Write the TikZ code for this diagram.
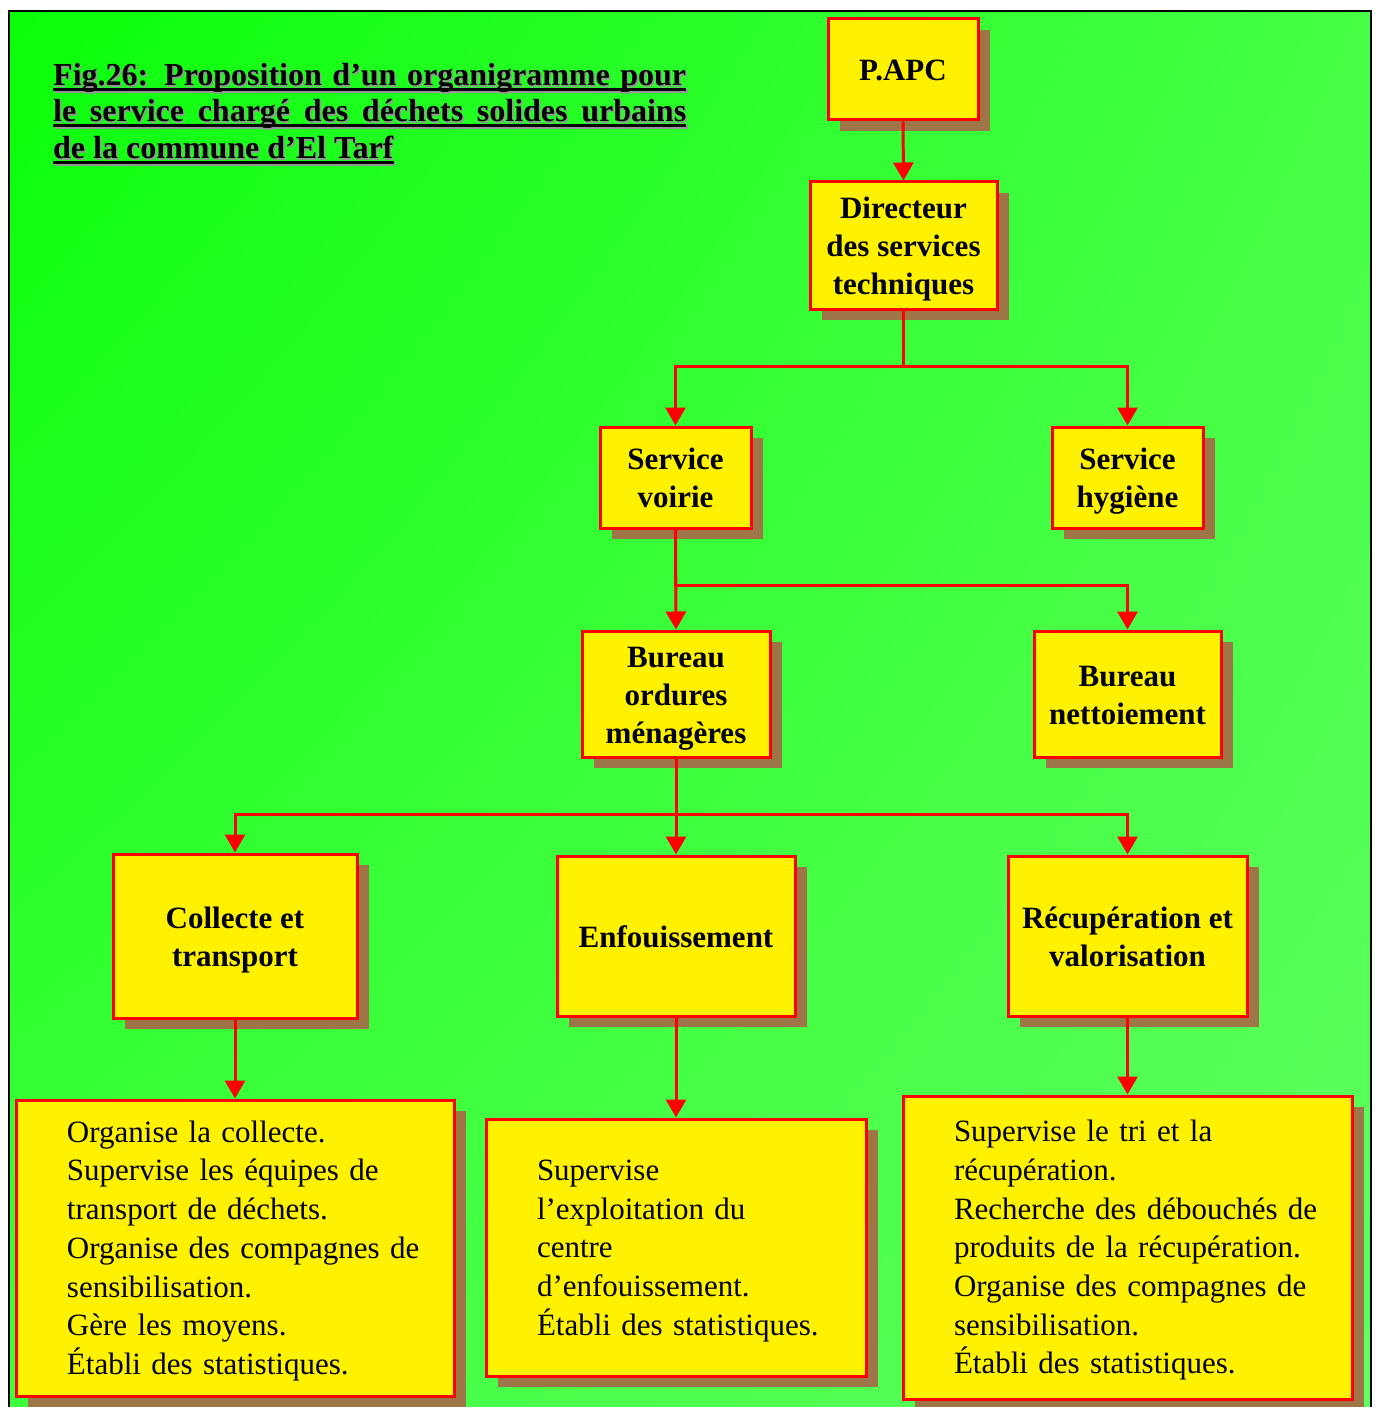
\documentclass[tikz,border=0pt]{standalone}
\usepackage{fontspec}
\setmainfont{Liberation Serif}
\usetikzlibrary{arrows.meta,shadows,shadings}
\definecolor{shad}{RGB}{158,117,70}
\definecolor{gA}{RGB}{10,255,10}
\definecolor{gB}{RGB}{70,255,70}
\definecolor{gC}{RGB}{62,255,62}
\definecolor{gD}{RGB}{95,255,95}
\definecolor{ttlshadow}{RGB}{150,150,150}
\newcommand\bstrut{\rule[-8pt]{0pt}{38pt}}
\newcommand\dstrut{\rule[-9pt]{0pt}{38.7pt}}
\begin{document}
\begin{tikzpicture}[x=1pt,y=-1pt,
  myshadow/.style={drop shadow={shadow xshift=12pt, shadow yshift=-11pt, fill=shad, opacity=1}},
  box/.style={draw=red, line width=3pt, fill=yellow, inner sep=0pt, align=center,
    font=\fontsize{31}{38}\selectfont\bfseries, myshadow},
  desc/.style={draw=red, line width=3pt, fill=yellow, inner sep=0pt, align=left,
    font=\fontsize{31}{38.7}\selectfont, myshadow},
  conn/.style={draw=red, line width=3pt, -{Triangle[width=20pt,length=18pt]}},
  ttl/.style={inner sep=0pt, anchor=base west, font=\fontsize{32}{37}\selectfont\bfseries},
  uline/.style={line width=3.5pt},
]
\useasboundingbox (0,0) rectangle (1377,1407);
\shade[upper left=gA, upper right=gB, lower left=gC, lower right=gD] (9,11) rectangle (1371,1407);
\draw[line width=2.5pt] (9,1407) -- (9,11) -- (1371,11) -- (1371,1407);

% title (shadow copy first)
\node[ttl, text=ttlshadow] (t1s) at (54.5,87.5) {\makebox[633pt][s]{Fig.26: Proposition d’un organigramme pour}};
\node[ttl, text=ttlshadow] (t2s) at (54.5,123.5) {\makebox[633pt][s]{le service chargé des déchets solides urbains}};
\node[ttl, text=ttlshadow] (t3s) at (54.5,160.5) {de la commune d’El Tarf};
\draw[uline, ttlshadow] ([yshift=-3.5pt]t1s.base west) -- ([yshift=-3.5pt]t1s.base east);
\draw[uline, ttlshadow] ([yshift=-3.5pt]t2s.base west) -- ([yshift=-3.5pt]t2s.base east);
\draw[uline, ttlshadow] ([yshift=-3.5pt]t3s.base west) -- ([yshift=-3.5pt]t3s.base east);
\node[ttl] (t1) at (53,86) {\makebox[633pt][s]{Fig.26: Proposition d’un organigramme pour}};
\node[ttl] (t2) at (53,122) {\makebox[633pt][s]{le service chargé des déchets solides urbains}};
\node[ttl] (t3) at (53,159) {de la commune d’El Tarf};
\draw[uline] ([yshift=-3.5pt]t1.base west) -- ([yshift=-3.5pt]t1.base east);
\draw[uline] ([yshift=-3.5pt]t2.base west) -- ([yshift=-3.5pt]t2.base east);
\draw[uline] ([yshift=-3.5pt]t3.base west) -- ([yshift=-3.5pt]t3.base east);

% boxes
\node[box, minimum width=150pt, minimum height=101pt] (papc) at (903,69.5) {\bstrut P.APC\bstrut};
\node[box, minimum width=187pt, minimum height=127pt] (dir) at (903.5,245.5) {\bstrut Directeur\\des services\\techniques\bstrut};
\node[box, minimum width=151pt, minimum height=101pt] (voirie) at (675.5,477.5) {\bstrut Service\\voirie\bstrut};
\node[box, minimum width=151pt, minimum height=101pt] (hyg) at (1127.5,477.5) {\bstrut Service\\hygiène\bstrut};
\node[box, minimum width=188pt, minimum height=126pt] (ord) at (676,694) {\bstrut Bureau\\ordures\\ménagères\bstrut};
\node[box, minimum width=187pt, minimum height=126pt] (nett) at (1127.5,694) {\bstrut Bureau\\nettoiement\bstrut};
\node[box, minimum width=244pt, minimum height=164pt] (coll) at (235,936) {\bstrut Collecte et\\transport\bstrut};
\node[box, minimum width=238pt, minimum height=160pt] (enf) at (676,936) {\bstrut Enfouissement\bstrut};
\node[box, minimum width=239pt, minimum height=160pt] (recup) at (1127.5,936) {\bstrut Récupération et\\valorisation\bstrut};

\node[desc, text width=438pt, minimum height=296pt] (d1) at (235,1248) {\leftskip=51pt
\dstrut Organise la collecte.\\Supervise les équipes de\\transport de déchets.\\Organise des compagnes de\\sensibilisation.\\Gère les moyens.\\Établi des statistiques.\dstrut\par};
\node[desc, text width=380pt, minimum height=257pt] (d2) at (676,1247.5) {\leftskip=51pt
\dstrut Supervise\\l’exploitation du\\centre\\d’enfouissement.\\Établi des statistiques.\dstrut\par};
\node[desc, text width=449pt, minimum height=303pt] (d3) at (1127.5,1247.5) {\leftskip=51pt
\dstrut Supervise le tri et la\\récupération.\\Recherche des débouchés de\\produits de la récupération.\\Organise des compagnes de\\sensibilisation.\\Établi des statistiques.\dstrut\par};

% connectors
\draw[conn] (papc.south) -- (dir.north);
\draw[conn] (dir.south) -- ++(0,56) -| (voirie.north);
\draw[conn] (dir.south) -- ++(0,56) -| (hyg.north);
\draw[conn] (voirie.south) -- (ord.north);
\draw[conn] (voirie.south) -- ++(0,56) -| (nett.north);
\draw[conn] (ord.south) -- ++(0,56) -| (coll.north);
\draw[conn] (ord.south) -- (enf.north);
\draw[conn] (ord.south) -- ++(0,56) -| (recup.north);
\draw[conn] (coll.south) -- (d1.north);
\draw[conn] (enf.south) -- (d2.north);
\draw[conn] (recup.south) -- (d3.north);
\end{tikzpicture}
\end{document}
